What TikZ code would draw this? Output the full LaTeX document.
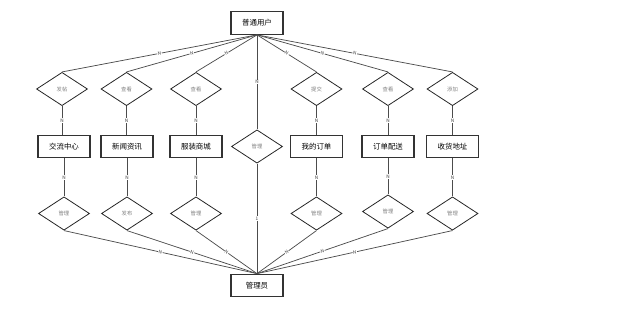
\documentclass[tikz,border=0pt]{standalone}
\usepackage{fontspec}
\setmainfont{Noto Sans CJK SC}
\usetikzlibrary{shapes.geometric}
\begin{document}
\begin{tikzpicture}[x=0.75pt,y=-0.75pt,
  ent/.style={draw=black!80,line width=0.8pt,minimum width=39pt,minimum height=17pt,inner sep=0pt,font=\fontsize{5.6}{6}\selectfont},
  rel/.style={diamond,draw=black!85,line width=0.6pt,minimum width=38.25pt,minimum height=25pt,inner sep=0pt,aspect=1.5,text=black!50,font=\fontsize{4}{4.5}\selectfont},
  link/.style={draw=black!70,line width=0.55pt},
  card/.style={midway,fill=white,inner sep=0.4pt,text=black!75,font=\fontsize{3.5}{4}\selectfont},
  scard/.style={card,sloped}]
\useasboundingbox (0,0) rectangle (619,312);
\node[ent] (u) at (257,23) {普通用户};
\node[ent] (a) at (257,285.5) {管理员};
% top relations
\node[rel] (d1) at (62,89) {发帖};
\node[rel] (d2) at (126.5,89) {查看};
\node[rel] (d3) at (196,89) {查看};
\node[rel] (d5) at (316.5,89) {提交};
\node[rel] (d6) at (388,89) {查看};
\node[rel] (d7) at (452.5,89) {添加};
\node[rel] (c) at (257,146.5) {管理};
% entities
\node[ent] (b1) at (64,146.5) {交流中心};
\node[ent] (b2) at (127,146.5) {新闻资讯};
\node[ent] (b3) at (196,146.5) {服装商城};
\node[ent] (b5) at (316.5,146.5) {我的订单};
\node[ent] (b6) at (388,146.5) {订单配送};
\node[ent] (b7) at (452.5,146.5) {收货地址};
% bottom relations
\node[rel] (m1) at (64,213.5) {管理};
\node[rel] (m2) at (127,213.5) {发布};
\node[rel] (m3) at (196,213.5) {管理};
\node[rel] (m5) at (316.5,213.5) {管理};
\node[rel] (m6) at (388,211.5) {管理};
\node[rel] (m7) at (452.5,213.5) {管理};
% links from user
\foreach \i in {1,2,3,5,6,7}{
  \draw[link] (u.south) -- (d\i.north) node[scard]{N};
  \draw[link] (d\i.south) -- (d\i.south |- b\i.north) node[card]{N};
  \draw[link] (b\i.south) -- (m\i.north) node[card]{N};
  \draw[link] (m\i.south) -- (a.north) node[scard]{N};
}
\draw[link] (u.south) -- (c.north) node[card]{N};
\draw[link] (c.south) -- (a.north) node[card]{1};
\end{tikzpicture}
\end{document}
